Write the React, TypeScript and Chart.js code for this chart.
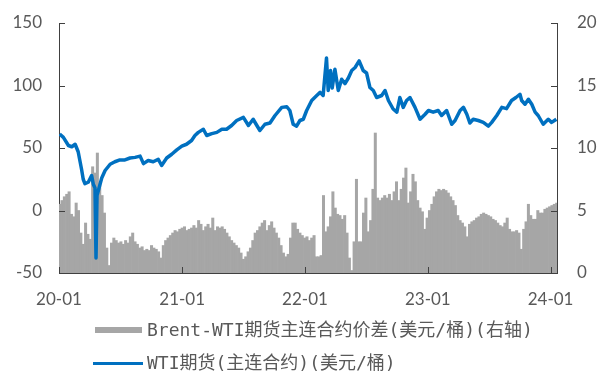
import React, { useEffect, useRef } from 'react';
import { Chart, registerables } from 'chart.js';

Chart.register(...registerables);

// x axis: days since 2020-01-01
const xTickDays = [0, 366, 731, 1096, 1461];
const xTickLabels = ['20-01', '21-01', '22-01', '23-01', '24-01'];
const xMaxDay = 1480;

// Brent-WTI spread (right axis), weekly from 2020-01-03
const spreadStartDay = 2;
const spreadStepDays = 7;
const spreadValues = [
  5.5, 5.8, 6.1, 6.3, 6.5, 4.7, 4.5, 5.6, 5.0, 3.2,
  2.3, 4.0, 3.1, 2.7, 8.5, 8.0, 9.6, 7.2, 6.2, 4.8,
  2.0, 0.6, 2.4, 2.8, 2.6, 2.4, 2.5, 2.3, 2.6, 2.4,
  2.9, 3.2, 2.5, 2.3, 2.0, 2.1, 1.8, 1.9, 1.8, 2.2,
  2.0, 1.9, 1.7, 1.2, 2.2, 2.6, 2.8, 3.0, 3.2, 3.4,
  3.3, 3.5, 3.6, 3.7, 3.4, 3.5, 3.6, 3.8, 3.6, 4.2,
  3.9, 3.4, 3.7, 3.9, 3.6, 4.4, 3.4, 3.7, 3.6, 3.7,
  3.5, 3.2, 2.9, 2.6, 2.4, 2.2, 2.0, 1.6, 1.1, 1.3,
  1.7, 2.0, 2.6, 3.2, 3.4, 3.7, 4.0, 4.2, 3.4, 3.8,
  4.1, 3.6, 3.2, 2.8, 2.2, 1.6, 1.3, 1.5, 2.8, 4.0,
  4.0, 3.5, 3.2, 3.0, 2.8, 2.9, 2.6, 2.8, 3.0, 1.3,
  1.3, 1.4, 6.2, 3.3, 3.7, 4.5, 6.5, 5.2, 4.7, 4.6,
  4.3, 4.6, 3.2, 1.2, 0.2, 2.5, 7.5, 2.5, 2.5, 4.8,
  6.0, 3.3, 4.2, 6.7, 11.2, 6.0, 5.8, 6.0, 6.2, 6.0,
  6.3, 5.8, 6.5, 7.3, 5.8, 6.7, 7.6, 8.4, 5.6, 6.5,
  7.9, 7.3, 5.8, 5.2, 4.9, 3.5, 4.4, 5.0, 5.5, 6.1,
  6.5, 6.7, 6.6, 6.7, 6.6, 6.4, 6.1, 5.8, 5.4, 4.6,
  4.2, 4.0, 3.7, 2.9, 3.9, 4.1, 4.2, 4.4, 4.5, 4.7,
  4.8, 4.7, 4.6, 4.5, 4.3, 4.2, 4.0, 3.8, 3.7, 4.0,
  4.4, 3.5, 3.3, 3.3, 3.4, 3.2, 1.9, 3.5, 4.1, 5.5,
  4.6, 4.3, 4.3, 5.0, 4.8, 4.8, 5.1, 5.2, 5.3, 5.4,
  5.5, 5.6,
];

// WTI futures price (left axis)
const wtiDays = [
  2, 13, 28, 38, 48, 57, 67, 72, 77, 87, 97, 102, 107, 110, 113, 117, 127, 137, 152, 166,
  181, 196, 211, 226, 241, 251, 265, 280, 295, 305, 320, 335, 350, 365, 379, 394, 404, 414, 429, 439,
  454, 469, 484, 498, 513, 528, 548, 563, 577, 588, 597, 612, 627, 642, 662, 677, 686, 696, 706, 716,
  726, 736, 751, 766, 776, 785, 795, 800, 807, 812, 820, 830, 840, 850, 860, 870, 880, 892, 904, 914,
  924, 934, 944, 959, 969, 979, 993, 1004, 1013, 1023, 1033, 1043, 1058, 1073, 1088, 1098, 1112, 1127, 1137, 1152,
  1167, 1177, 1192, 1202, 1212, 1221, 1231, 1246, 1261, 1276, 1286, 1301, 1316, 1330, 1345, 1358, 1370, 1375, 1385, 1395,
  1405, 1415, 1424, 1439, 1454, 1464, 1478,
];
const wtiPrices = [
  61.2, 58.5, 52, 51, 53, 47, 33, 25, 21.5, 22.6, 28, 21, 18, -38, 12, 16, 26, 32, 37, 39,
  40.5, 40.5, 42, 42.5, 43.5, 37.5, 40, 39, 41, 36, 42, 45, 48.5, 51.5, 53, 56, 60, 62.5, 65, 60,
  61.5, 62.5, 65, 65, 68, 72, 74.5, 68, 73, 68, 64, 69, 70, 76, 82.5, 83, 80, 69, 67.5, 72,
  73, 80, 88, 92, 94.5, 92, 122, 96, 112, 98, 113, 96, 105, 101.5, 106, 112, 114.4, 119.7, 112, 110,
  98.4, 96, 90.4, 92, 96, 88, 81.2, 78.7, 90.4, 82.5, 88, 90.4, 82.5, 73, 77, 80, 78.7, 80, 76, 80,
  69, 72, 80, 82.5, 77, 70, 73, 72, 70.5, 67.5, 70.5, 76, 82.5, 81.5, 88, 90.4, 93, 88, 85, 89,
  85, 78.7, 76, 69, 73, 70.5, 73,
];

const legendLabels = [
  'Brent-WTI期货主连合约价差(美元/桶)(右轴)',
  'WTI期货(主连合约)(美元/桶)',
];

const AXIS_COLOR = '#404040';
const TEXT_COLOR = '#595959';
const tickFont = { family: 'Lato', size: 17 };

const insideTicks = {
  id: 'insideTicks',
  afterDraw(chart: any) {
    const ctx = chart.ctx;
    const { left, right, bottom } = chart.chartArea;
    const len = 6;
    ctx.save();
    ctx.strokeStyle = AXIS_COLOR;
    ctx.lineWidth = 1;
    const ys = chart.scales.y;
    ys.ticks.forEach((t: any) => {
      const py = Math.round(ys.getPixelForValue(t.value)) + 0.5;
      ctx.beginPath();
      ctx.moveTo(left, py);
      ctx.lineTo(left + len, py);
      ctx.stroke();
    });
    const y1 = chart.scales.y1;
    y1.ticks.forEach((t: any) => {
      const py = Math.round(y1.getPixelForValue(t.value)) + 0.5;
      ctx.beginPath();
      ctx.moveTo(right, py);
      ctx.lineTo(right - len, py);
      ctx.stroke();
    });
    const xs = chart.scales.x;
    xs.ticks.forEach((t: any) => {
      const px = Math.round(xs.getPixelForValue(t.value)) + 0.5;
      ctx.beginPath();
      ctx.moveTo(px, bottom);
      ctx.lineTo(px, bottom - len);
      ctx.stroke();
    });
    ctx.restore();
  },
};

export default function App() {
  const ref = useRef<HTMLCanvasElement>(null);

  useEffect(() => {
    const chart = new Chart(ref.current as HTMLCanvasElement, {
      type: 'bar',
      data: {
        datasets: [
          {
            type: 'line',
            label: legendLabels[1],
            data: wtiDays.map((d, i) => ({ x: d, y: wtiPrices[i] })),
            yAxisID: 'y',
            borderColor: '#0070C0',
            borderWidth: 3.5,
            pointRadius: 0,
            tension: 0,
            borderJoinStyle: 'round',
            order: 0,
          } as any,
          {
            type: 'bar',
            label: legendLabels[0],
            data: spreadValues.map((v, i) => ({ x: spreadStartDay + i * spreadStepDays, y: v })),
            yAxisID: 'y1',
            backgroundColor: '#A6A6A6',
            borderWidth: 0,
            barPercentage: 1,
            categoryPercentage: 1,
            order: 1,
          } as any,
        ],
      },
      options: {
        animation: false,
        responsive: false,
        layout: { padding: { top: 23, left: 0, right: 0, bottom: 0 } },
        plugins: { legend: { display: false }, tooltip: { enabled: false } },
        scales: {
          x: {
            type: 'linear',
            min: 0,
            max: xMaxDay,
            offset: false,
            grid: { display: false, drawTicks: false },
            border: { display: true, color: AXIS_COLOR, width: 1 },
            afterBuildTicks: (s: any) => {
              s.ticks = xTickDays.map((v) => ({ value: v }));
            },
            afterFit: (s: any) => {
              s.height = 99;
              s.paddingLeft = 0;
              s.paddingRight = 0;
            },
            ticks: {
              autoSkip: false,
              maxRotation: 0,
              padding: 16,
              color: TEXT_COLOR,
              font: tickFont,
              callback: (_v: any, i: number) => xTickLabels[i],
            },
          },
          y: {
            position: 'left',
            min: -50,
            max: 150,
            grid: { display: false, drawTicks: false },
            border: { display: true, color: AXIS_COLOR, width: 1 },
            afterFit: (s: any) => {
              s.width = 59;
              s.paddingTop = 0;
              s.paddingBottom = 0;
            },
            ticks: { stepSize: 50, padding: 17, color: TEXT_COLOR, font: tickFont },
          },
          y1: {
            position: 'right',
            min: 0,
            max: 20,
            grid: { display: false, drawTicks: false },
            border: { display: true, color: AXIS_COLOR, width: 1 },
            afterFit: (s: any) => {
              s.width = 44;
              s.paddingTop = 0;
              s.paddingBottom = 0;
            },
            ticks: { stepSize: 5, padding: 20, color: TEXT_COLOR, font: tickFont },
          },
        },
      } as any,
      plugins: [insideTicks],
    });
    return () => chart.destroy();
  }, []);

  const legendText: React.CSSProperties = {
    position: 'absolute',
    left: 147,
    fontFamily: '"DejaVu Sans Mono", "Noto Sans CJK SC", monospace',
    fontSize: 18,
    lineHeight: '18px',
    color: TEXT_COLOR,
    whiteSpace: 'nowrap',
  };

  return (
    <div style={{ position: 'absolute', left: 0, top: 0, width: 601, height: 372, background: '#fff' }}>
      <canvas
        ref={ref}
        width={601}
        height={372}
        style={{ position: 'absolute', left: 0, top: 0, width: 601, height: 372 }}
      />
      <div style={{ position: 'absolute', left: 95, top: 327, width: 47, height: 6, background: '#A6A6A6' }} />
      <div style={{ ...legendText, top: 321 }}>{legendLabels[0]}</div>
      <div style={{ position: 'absolute', left: 93, top: 362, width: 50, height: 3, background: '#0070C0' }} />
      <div style={{ ...legendText, top: 354 }}>{legendLabels[1]}</div>
    </div>
  );
}
